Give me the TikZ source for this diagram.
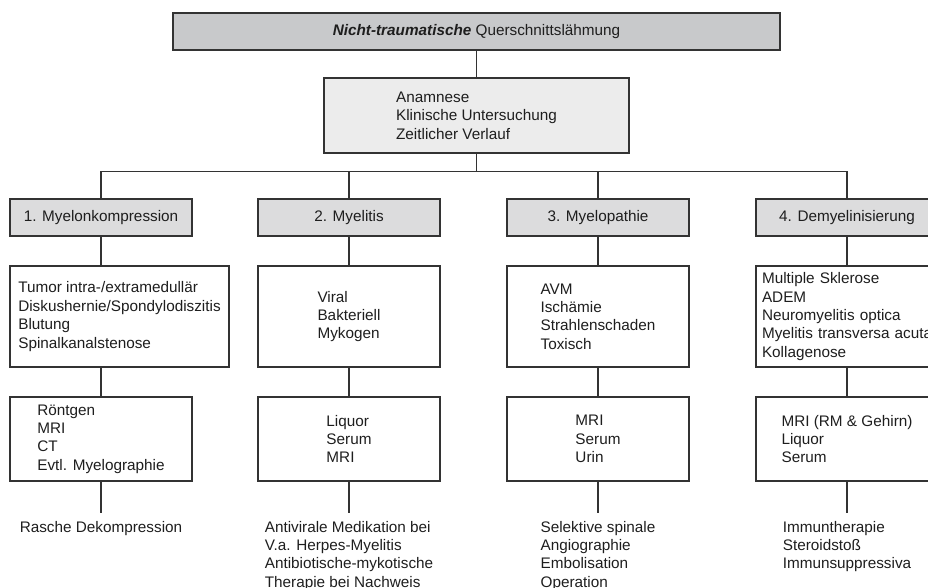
\documentclass[tikz,border=0pt]{standalone}
\usepackage{fontspec}
\setmainfont{Liberation Sans}
\definecolor{linecol}{HTML}{333333}
\definecolor{txtcol}{HTML}{1E1E1E}
\definecolor{topfill}{HTML}{C8C9CB}
\definecolor{headfill}{HTML}{DCDCDD}
\definecolor{anafill}{HTML}{ECECEC}
\newcommand{\myfnt}{\fontsize{15.3bp}{18.4bp}\selectfont}
\begin{document}
\begin{tikzpicture}[x=1bp,y=-1bp,
  box/.style={draw=linecol, line width=1.2bp, inner sep=0pt, align=left, text=txtcol, font=\myfnt},
  headbox/.style={box, fill=headfill, minimum width=182bp, minimum height=37bp},
  contbox/.style={box, fill=white, minimum height=101bp},
  testbox/.style={box, fill=white, minimum width=182bp, minimum height=84bp},
  thertext/.style={inner sep=0pt, outer ysep=8bp, anchor=north, align=left, text=txtcol, font=\myfnt},
  ln/.style={draw=linecol, line width=1.2bp}]
\useasboundingbox (0,0) rectangle (928,588);
% top
\node[box, fill=topfill, minimum width=607bp, minimum height=37bp] (top) at (476.5,31.5)
  {\textbf{\textit{Nicht-traumatische}} Querschnittslähmung};
\node[box, fill=anafill, minimum width=305bp, minimum height=75bp] (ana) at (476.5,115.5)
  {Anamnese\\Klinische Untersuchung\\Zeitlicher Verlauf};
\coordinate (bus) at (0,171.5);
% headers
\node[headbox] (h1) at (101,217.5) {1. Myelonkompression};
\node[headbox] (h2) at (349,217.5) {2. Myelitis};
\node[headbox] (h3) at (598,217.5) {3. Myelopathie};
\node[headbox] (h4) at (847,217.5) {4. Demyelinisierung};
% content
\node[contbox, minimum width=219bp] (c1) at (119.5,316.5)
  {Tumor intra-/extramedullär\\Diskushernie/Spondylodiszitis\\Blutung\\Spinalkanalstenose};
\node[contbox, minimum width=182bp] (c2) at (349,316.5)
  {Viral\\Bakteriell\\Mykogen};
\node[contbox, minimum width=182bp] (c3) at (598,316.5)
  {AVM\\Ischämie\\Strahlenschaden\\Toxisch};
\node[contbox, text width=207bp, inner xsep=6bp] (c4) at (865.5,316.5)
  {Multiple Sklerose\\ADEM\\Neuromyelitis optica\\Myelitis transversa acuta\\Kollagenose};
% tests
\node[testbox] (t1) at (101,439) {Röntgen\\MRI\\CT\\Evtl. Myelographie};
\node[testbox] (t2) at (349,439) {Liquor\\Serum\\MRI};
\node[testbox] (t3) at (598,439) {MRI\\Serum\\Urin};
\node[testbox] (t4) at (847,439) {MRI (RM \& Gehirn)\\Liquor\\Serum};
% therapy
\node[thertext] (r1) at (101,513) {Rasche Dekompression};
\node[thertext] (r2) at (349,513) {Antivirale Medikation bei\\V.a. Herpes-Myelitis\\Antibiotische-mykotische\\Therapie bei Nachweis};
\node[thertext] (r3) at (598,513) {Selektive spinale\\Angiographie\\Embolisation\\Operation};
\node[thertext] (r4) at (847,513) {Immuntherapie\\Steroidstoß\\Immunsuppressiva};
% connectors
\draw[ln] (top.south) -- (ana.north);
\draw[ln] (ana.south) -- (ana.south |- bus);
\draw[ln] (h1.north) -- (h1.north |- bus) -- (h4.north |- bus) -- (h4.north);
\draw[ln] (h2.north) -- (h2.north |- bus);
\draw[ln] (h3.north) -- (h3.north |- bus);
\foreach \i in {1,2,3,4}{
  \draw[ln] (h\i.south) -- (h\i.south |- c\i.north);
  \draw[ln] (t\i.north |- c\i.south) -- (t\i.north);
  \draw[ln] (t\i.south) -- (r\i.north);
}
\end{tikzpicture}
\end{document}
